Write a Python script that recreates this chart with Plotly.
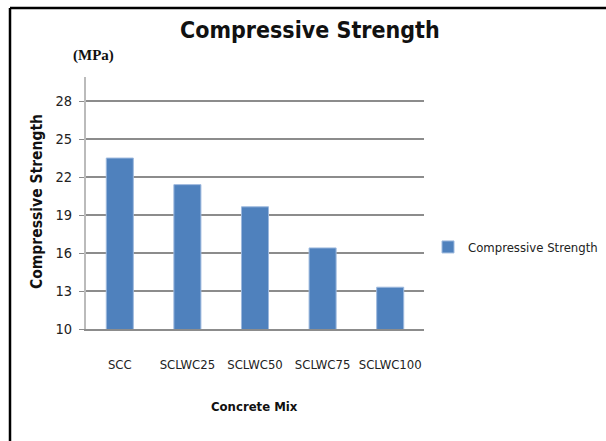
import plotly.graph_objects as go

# Concrete mixes and their compressive strength (MPa)
mixes = ["SCC", "SCLWC25", "SCLWC50", "SCLWC75", "SCLWC100"]
strength = [23.5, 21.4, 19.65, 16.4, 13.3]
y_ticks = [10, 13, 16, 19, 22, 25, 28]

FONT = "DejaVu Sans Condensed, Liberation Sans Narrow, Arial Narrow, sans-serif"
BAR = "#4F81BD"
GRID = "#8C8C8C"

W, H = 606, 441
L, R, T, B = 86, 182, 77, 112
PW, PH = W - L - R, H - T - B


def px(x):
    return (x - L) / PW


def py(y):
    return (H - B - y) / PH


fig = go.Figure()
fig.add_trace(go.Bar(
    x=mixes, y=strength, name="Compressive Strength",
    marker=dict(color=BAR, line=dict(color="#9DB9DE", width=1)),
))

fig.update_layout(
    width=W, height=H,
    margin=dict(l=L, r=R, t=T, b=B, autoexpand=False),
    paper_bgcolor="white", plot_bgcolor="white",
    bargap=0.6,
    showlegend=True,
    legend=dict(x=px(428), y=py(247), xanchor="left", yanchor="middle",
                font=dict(family=FONT, size=13, color="#222"),
                itemwidth=30, bgcolor="rgba(0,0,0,0)"),
    font=dict(family=FONT, color="#222"),
    xaxis=dict(showgrid=False, showline=True, linecolor=GRID, linewidth=2,
               ticks="", tickangle=0, ticklabelstandoff=22,
               tickfont=dict(family=FONT, size=13, color="#222")),
    yaxis=dict(range=[10, 29.9], tickvals=y_ticks, showgrid=True,
               gridcolor=GRID, gridwidth=2, showline=True, linecolor="#BBBBBB",
               linewidth=2, ticks="outside", ticklen=5, tickcolor=GRID,
               ticklabelstandoff=4,
               tickfont=dict(family=FONT, size=14.5, color="#222"),
               zeroline=False),
    annotations=[
        dict(text="<b>Compressive Strength</b>", xref="paper", yref="paper",
             x=px(310), y=py(30), xanchor="center", yanchor="middle",
             showarrow=False, font=dict(family=FONT, size=23, color="#111")),
        dict(text="<b>(MPa)</b>", xref="paper", yref="paper",
             x=px(93), y=py(55), xanchor="center", yanchor="middle",
             showarrow=False,
             font=dict(family="Liberation Serif, Times New Roman, serif",
                       size=15, color="#111")),
        dict(text="<b>Compressive Strength</b>", xref="paper", yref="paper",
             x=px(37), y=py(202), xanchor="center", yanchor="middle",
             textangle=-90, showarrow=False,
             font=dict(family=FONT, size=15.5, color="#111")),
        dict(text="<b>Concrete Mix</b>", xref="paper", yref="paper",
             x=px(254), y=py(406), xanchor="center", yanchor="middle",
             showarrow=False, font=dict(family=FONT, size=13, color="#111")),
    ],
    shapes=[
        # outer frame: top and left edges
        dict(type="line", xref="paper", yref="paper",
             x0=px(10), x1=px(W + 5), y0=py(8), y1=py(8),
             line=dict(color="black", width=2.5)),
        dict(type="line", xref="paper", yref="paper",
             x0=px(10), x1=px(10), y0=py(8), y1=py(H + 5),
             line=dict(color="black", width=2.5)),
    ],
)

fig.write_html("out.html")
